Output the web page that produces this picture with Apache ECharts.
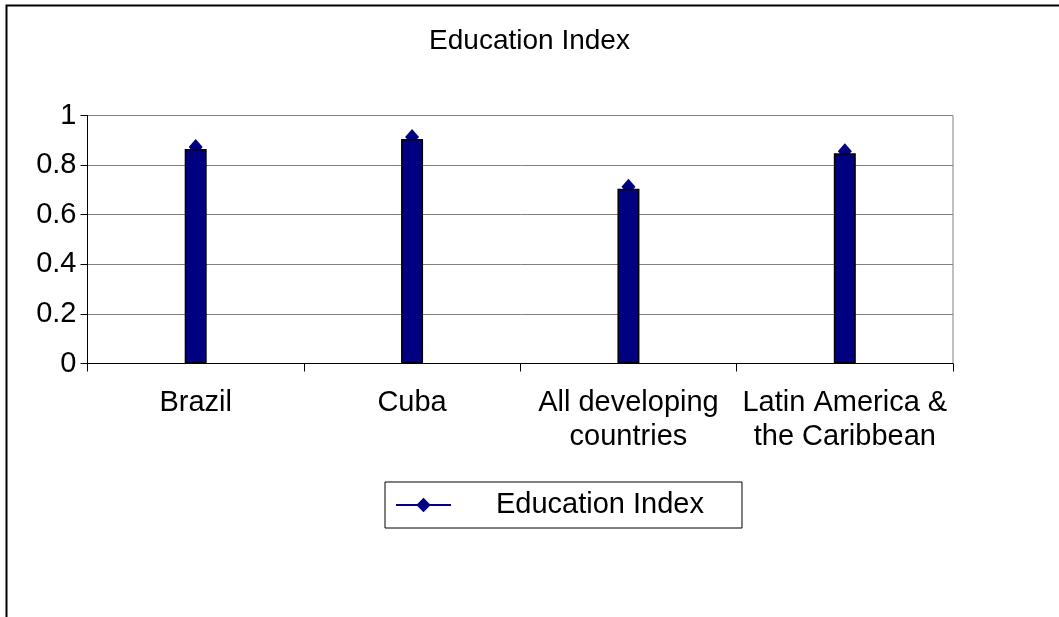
<!DOCTYPE html>
<html>
<head>
<meta charset="utf-8">
<script src="https://cdn.jsdelivr.net/npm/echarts@6/dist/echarts.min.js"></script>
<style>
html,body{margin:0;padding:0;background:#fff;}
#chart{width:1059px;height:617px;}
</style>
</head>
<body>
<div id="chart"></div>
<script>
const categories = ['Brazil', 'Cuba', 'All developing\ncountries', 'Latin America &\nthe Caribbean'];
const educationIndex = [0.865, 0.905, 0.705, 0.848];
const seriesName = 'Education Index';
const chartTitle = 'Education Index';

const FONT = 'Liberation Sans, Arial, sans-serif';
const chart = echarts.init(document.getElementById('chart'), null, {renderer: 'canvas'});
chart.setOption({
  animation: false,
  backgroundColor: '#fff',
  graphic: [{
    type: 'rect', silent: true, z: 100,
    shape: {x: 6.5, y: 5.5, width: 1200, height: 800},
    style: {fill: 'none', stroke: '#000', lineWidth: 2}
  }],
  title: {
    text: chartTitle, left: 'center', top: 22,
    textStyle: {fontFamily: FONT, fontSize: 28, fontWeight: 'normal', color: '#000'}
  },
  legend: {
    data: [seriesName],
    left: 385, top: 482,
    padding: [8, 38, 8, 10],
    borderColor: '#000', borderWidth: 1,
    itemWidth: 55, itemHeight: 18,
    lineStyle: {color: '#000080', width: 2, opacity: 1},
    textStyle: {fontFamily: FONT, fontSize: 29, color: '#000', padding: [0, 0, 0, 40], lineHeight: 30}
  },
  grid: {
    left: 87.5, right: 106, top: 115.5, bottom: 253.5,
    show: true, borderColor: '#808080', borderWidth: 1, containLabel: false
  },
  xAxis: {
    type: 'category', data: categories, boundaryGap: true,
    axisLine: {lineStyle: {color: '#000', width: 1}},
    axisTick: {show: true, length: 8, lineStyle: {color: '#000'}},
    axisLabel: {interval: 0, margin: 22, fontFamily: FONT, fontSize: 29, color: '#000', lineHeight: 34}
  },
  yAxis: {
    type: 'value', min: 0, max: 1, interval: 0.2,
    axisLine: {show: true, lineStyle: {color: '#000', width: 1}},
    axisTick: {show: true, length: 7, lineStyle: {color: '#000'}},
    splitLine: {lineStyle: {color: '#808080', width: 1}},
    axisLabel: {margin: 11, fontFamily: FONT, fontSize: 29, color: '#000'}
  },
  series: [
    {
      name: 'bars', type: 'bar', data: educationIndex, barWidth: 22,
      itemStyle: {color: '#000080', borderColor: '#000', borderWidth: 1.5},
      z: 3
    },
    {
      name: seriesName, type: 'line', data: educationIndex,
      symbol: 'diamond', symbolSize: [14, 16], symbolOffset: [0, -2],
      showSymbol: true,
      itemStyle: {color: '#000080'},
      lineStyle: {opacity: 0},
      z: 2
    }
  ]
});
</script>
</body>
</html>
